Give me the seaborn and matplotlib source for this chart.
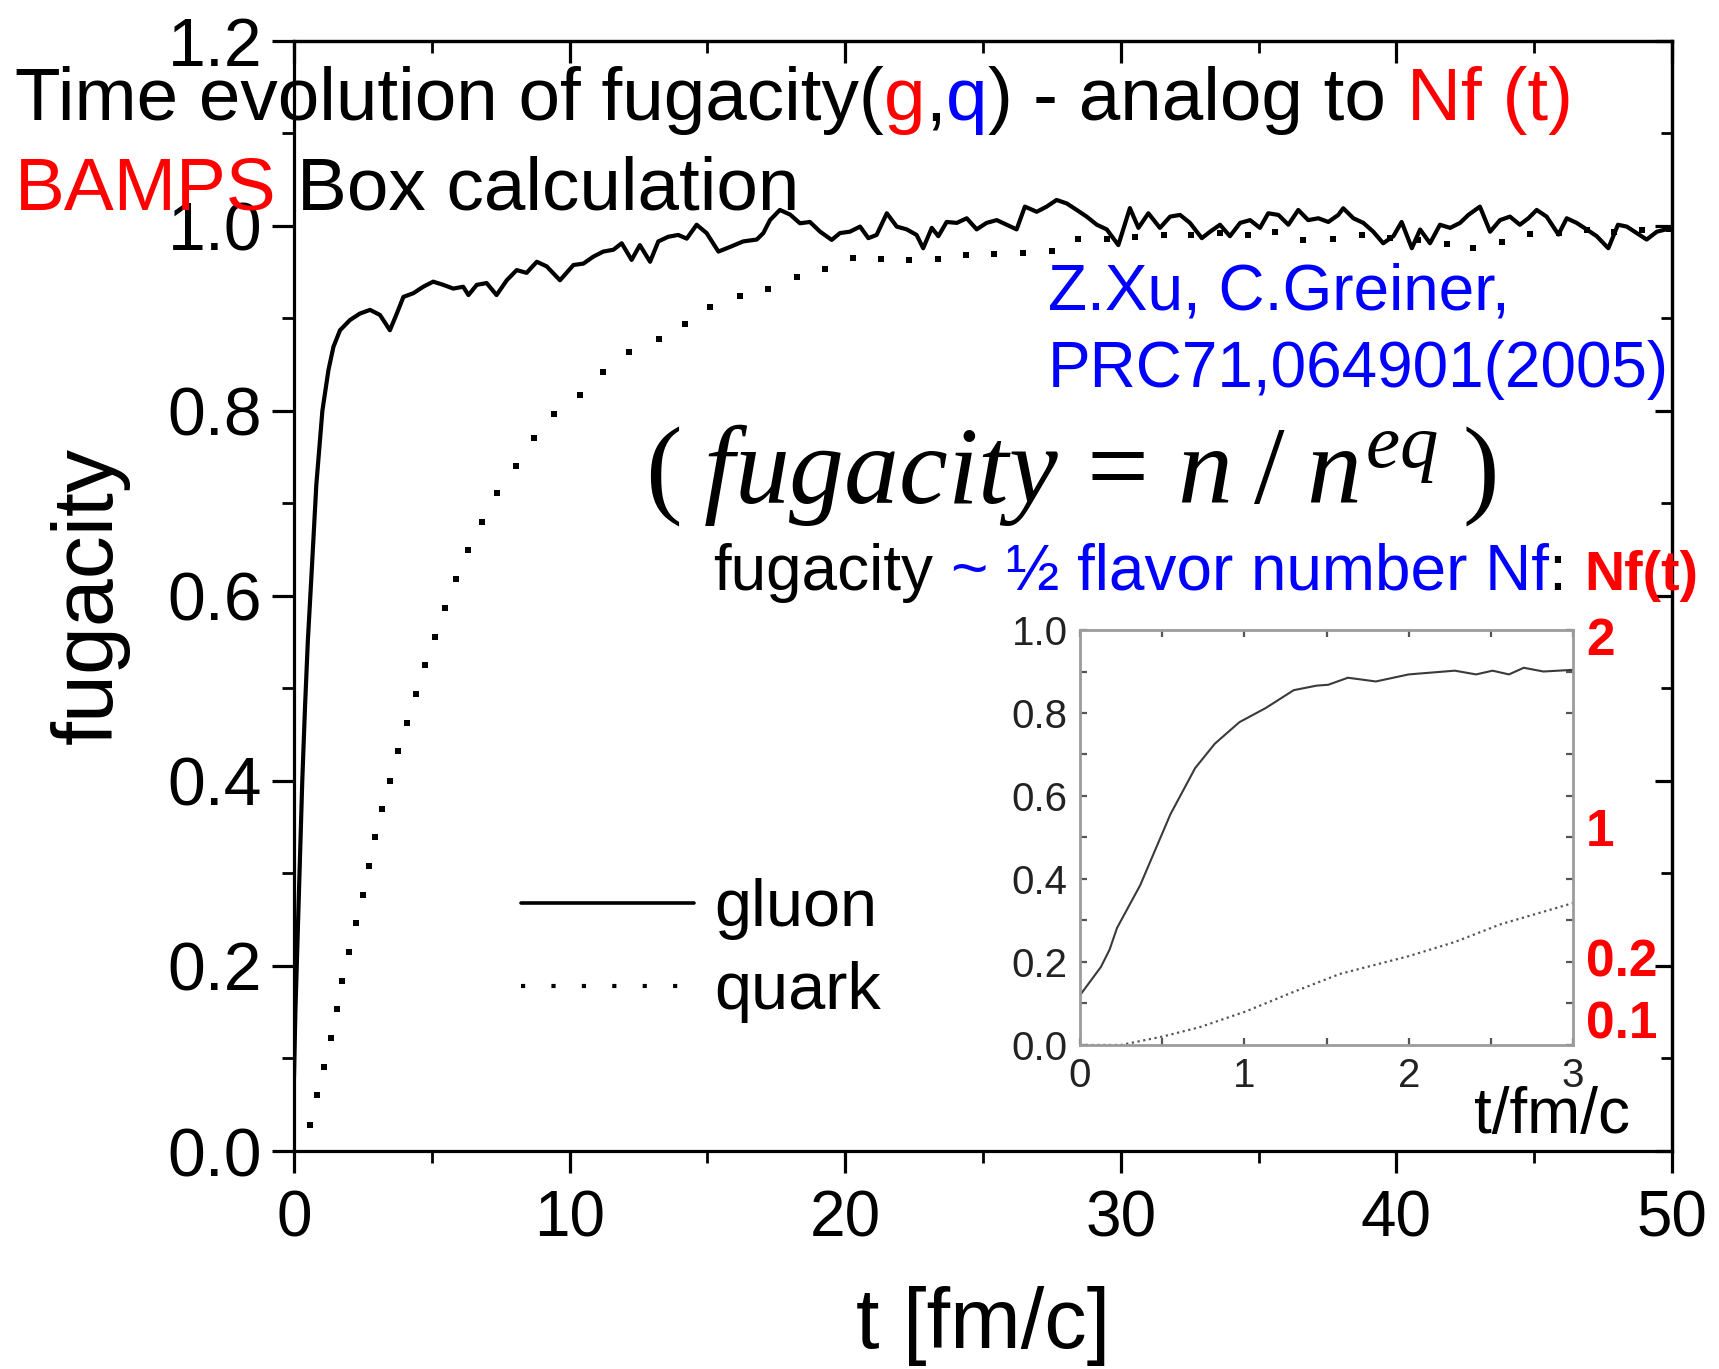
import matplotlib
matplotlib.use("Agg")
import matplotlib.pyplot as plt
import seaborn as sns
import pandas as pd
from matplotlib.lines import Line2D
from matplotlib.ticker import MultipleLocator, FixedLocator, FormatStrFormatter, NullFormatter
from matplotlib.transforms import IdentityTransform

# ---------------- data ----------------
gluon_t = [0.0, 0.05, 0.1, 0.2, 0.3, 0.4, 0.5, 0.63, 0.81, 1.03, 1.25, 1.43, 1.67, 2.03, 2.39,
           2.76, 3.12, 3.48, 3.73, 3.97, 4.33, 4.69, 5.05, 5.42, 5.78, 6.14, 6.33, 6.63, 6.99,
           7.35, 7.72, 8.08, 8.44, 8.81, 9.17, 9.65, 10.14, 10.50, 10.86, 11.22, 11.59, 11.89,
           12.25, 12.55, 12.92, 13.22, 13.58, 13.94, 14.25, 14.61, 14.97, 15.40, 15.82, 16.30,
           16.79, 17.03, 17.27, 17.63, 18.0, 18.36, 18.72, 19.09, 19.51, 19.81, 20.17, 20.54,
           20.84, 21.14, 21.51, 21.87, 22.23, 22.59, 22.83, 23.14, 23.38, 23.68, 24.05, 24.41,
           24.77, 25.13, 25.50, 25.86, 26.22, 26.52, 26.95, 27.31, 27.67, 28.04, 28.40, 28.76,
           29.13, 29.49, 29.91, 30.33, 30.64, 31.00, 31.42, 31.79, 32.15, 32.51, 32.94, 33.24,
           33.60, 33.96, 34.33, 34.69, 35.05, 35.35, 35.72, 36.08, 36.44, 36.80, 37.17, 37.53,
           37.89, 38.07, 38.44, 38.80, 39.16, 39.52, 39.89, 40.19, 40.56, 40.86, 41.22, 41.58,
           41.95, 42.31, 42.61, 43.03, 43.40, 43.76, 44.12, 44.48, 44.79, 45.09, 45.45, 45.88,
           46.18, 46.54, 46.91, 47.27, 47.69, 48.04, 48.36, 48.72, 49.08, 49.45, 50.0]
gluon_f = [0.08, 0.15, 0.20, 0.30, 0.40, 0.48, 0.55, 0.62, 0.72, 0.80, 0.844, 0.869, 0.887, 0.898,
           0.905, 0.909, 0.9035, 0.887, 0.905, 0.923, 0.927, 0.934, 0.9395, 0.936, 0.932, 0.934,
           0.925, 0.936, 0.938, 0.925, 0.941, 0.952, 0.949, 0.961, 0.956, 0.941, 0.9575, 0.959,
           0.9665, 0.972, 0.974, 0.981, 0.963, 0.979, 0.961, 0.983, 0.988, 0.990, 0.986, 1.001,
           0.992, 0.972, 0.977, 0.983, 0.985, 0.992, 1.006, 1.017, 1.012, 1.0026, 1.004, 0.9935,
           0.9846, 0.992, 0.9935, 0.999, 0.9865, 0.990, 1.0134, 0.999, 0.996, 0.990, 0.9756,
           0.9976, 0.9886, 1.004, 1.003, 1.008, 0.996, 1.003, 1.006, 1.001, 0.996, 1.0206, 1.015,
           1.0206, 1.0278, 1.024, 1.017, 1.0098, 1.001, 0.996, 0.979, 1.019, 0.9976, 1.0134,
           0.9976, 1.0098, 1.0116, 1.003, 0.9865, 0.9935, 1.001, 0.9886, 1.003, 1.006, 0.9976,
           1.0134, 1.0116, 1.001, 1.017, 1.006, 1.008, 1.004, 1.0116, 1.0188, 1.008, 1.003,
           0.9935, 0.981, 0.9886, 1.004, 0.9756, 0.9958, 0.981, 1.001, 0.9976, 1.003, 1.0116,
           1.0206, 0.9935, 1.006, 1.0098, 1.001, 1.008, 1.017, 1.0098, 0.9904, 1.008, 1.003,
           0.9958, 0.9886, 0.9756, 1.001, 0.999, 0.992, 0.985, 0.9935, 0.9976]

quark_t = [0.59, 0.85, 1.10, 1.33, 1.55, 1.75, 2.01, 2.24, 2.52, 2.72, 2.93, 3.18, 3.49, 3.78,
           4.09, 4.44, 4.75, 5.11, 5.49, 5.89, 6.32, 6.82, 7.38, 8.04, 8.71, 9.42, 10.38, 11.21,
           12.15, 13.23, 14.17, 15.11, 16.17, 17.21, 18.24, 19.27, 20.27, 21.29, 22.33, 23.36,
           24.38, 25.41, 26.46, 27.49, 28.46, 29.49, 30.5, 31.55, 32.55, 33.6, 34.6, 35.6, 36.62,
           37.71, 38.74, 39.77, 40.8, 41.82, 42.79, 43.82, 44.85, 45.9, 46.9, 47.9, 48.9, 49.9]
quark_f = [0.0285, 0.060, 0.091, 0.122, 0.153, 0.184, 0.215, 0.246, 0.277, 0.308, 0.339, 0.370,
           0.400, 0.432, 0.463, 0.494, 0.525, 0.556, 0.587, 0.618, 0.649, 0.680, 0.711, 0.740,
           0.770, 0.797, 0.817, 0.842, 0.864, 0.877, 0.894, 0.912, 0.924, 0.932, 0.944, 0.953,
           0.965, 0.964, 0.963, 0.964, 0.968, 0.969, 0.970, 0.973, 0.986, 0.986, 0.988, 0.990,
           0.990, 0.992, 0.990, 0.993, 0.985, 0.986, 0.990, 0.987, 0.985, 0.980, 0.9756, 0.982,
           0.991, 0.992, 0.995, 0.993, 0.995, 0.996]

inset_gluon_t = [0.0, 0.127, 0.18, 0.225, 0.366, 0.55, 0.70, 0.82, 0.97, 1.13, 1.30, 1.44, 1.51,
                 1.63, 1.80, 2.0, 2.28, 2.41, 2.51, 2.61, 2.70, 2.82, 3.0]
inset_gluon_f = [0.12, 0.188, 0.23, 0.282, 0.385, 0.556, 0.667, 0.726, 0.778, 0.812, 0.855, 0.866,
                 0.868, 0.885, 0.876, 0.893, 0.902, 0.893, 0.902, 0.893, 0.909, 0.900, 0.904]
inset_quark_t = [0.0, 0.25, 0.51, 0.73, 1.01, 1.30, 1.58, 2.0, 2.28, 2.56, 3.0]
inset_quark_f = [0.0, 0.0, 0.021, 0.043, 0.081, 0.128, 0.171, 0.214, 0.248, 0.291, 0.342]

x_ticks = [0, 10, 20, 30, 40, 50]
y_ticks = [0.0, 0.2, 0.4, 0.6, 0.8, 1.0, 1.2]
inset_x_ticks = [0, 1, 2, 3]
inset_y_ticks = [0.0, 0.2, 0.4, 0.6, 0.8, 1.0]
nf_labels = ["2", "1", "0.2", "0.1"]
nf_levels = [0.973, 0.511, 0.198, 0.048]
legend_labels = ["gluon", "quark"]

main_df = pd.DataFrame({"t": gluon_t, "f": gluon_f})
quark_df = pd.DataFrame({"t": quark_t, "f": quark_f})

# ---------------- style ----------------
sns.set_style("ticks")
plt.rcParams["font.family"] = ["Liberation Sans", "DejaVu Sans"]
plt.rcParams["mathtext.fontset"] = "custom"
plt.rcParams["mathtext.rm"] = "Liberation Serif"
plt.rcParams["mathtext.it"] = "Liberation Serif:italic"
for key in ["text.color", "axes.labelcolor", "xtick.color", "ytick.color", "axes.edgecolor"]:
    plt.rcParams[key] = "black"

W, H = 1719, 1369
fig = plt.figure(figsize=(W / 100, H / 100), dpi=100, facecolor="white")
ax = fig.add_axes([0.17103, 0.15924, 0.80163, 0.8111])
ax.set_facecolor("white")

sns.lineplot(data=main_df, x="t", y="f", ax=ax, color="black", linewidth=3.0,
             estimator=None, sort=False, legend=False)
sns.scatterplot(data=quark_df, x="t", y="f", ax=ax, color="black", marker="s", s=13,
                linewidth=0, legend=False, zorder=3)

ax.set_xlim(0, 50)
ax.set_ylim(0, 1.2)
ax.xaxis.set_major_locator(FixedLocator(x_ticks))
ax.yaxis.set_major_locator(FixedLocator(y_ticks))
ax.xaxis.set_minor_locator(MultipleLocator(5))
ax.yaxis.set_minor_locator(MultipleLocator(0.1))
ax.yaxis.set_major_formatter(FormatStrFormatter("%.1f"))
for s in ax.spines.values():
    s.set_visible(True)
    s.set_linewidth(2.3)
    s.set_color("black")
ax.tick_params(which="major", direction="out", length=16, width=2.3, pad=7,
               colors="black", labelcolor="black")
ax.tick_params(which="minor", direction="out", length=8.5, width=2.0, colors="black")
ax.tick_params(axis="x", which="major", pad=12, labelsize=46)
ax.tick_params(axis="y", which="major", labelsize=49)

secx = ax.secondary_xaxis("top")
secx.xaxis.set_major_locator(FixedLocator(x_ticks))
secx.xaxis.set_minor_locator(MultipleLocator(5))
secx.xaxis.set_major_formatter(NullFormatter())
secx.tick_params(which="major", direction="in", length=16, width=2.3, colors="black")
secx.tick_params(which="minor", direction="in", length=8.5, width=2.0, colors="black")
secx.spines["top"].set_linewidth(2.3)

secy = ax.secondary_yaxis("right")
secy.yaxis.set_major_locator(FixedLocator(y_ticks))
secy.yaxis.set_minor_locator(MultipleLocator(0.1))
secy.yaxis.set_major_formatter(NullFormatter())
secy.tick_params(which="major", direction="in", length=12, width=2.3, colors="black")
secy.tick_params(which="minor", direction="in", length=8, width=2.0, colors="black")
secy.spines["right"].set_linewidth(2.3)

ax.set_xlabel("t [fm/c]", fontsize=61, color="black")
ax.set_ylabel("fugacity", fontsize=62, color="black")
ax.xaxis.set_label_coords(0.5, -0.122)
ax.yaxis.set_label_coords(-0.119, 0.5)

# legend
handles = [Line2D([0], [0], color="black", lw=2.6),
           Line2D([0], [0], color="black", lw=3.0, linestyle=(0, (1, 6.3)),
                  dash_capstyle="butt")]
leg = ax.legend(handles, legend_labels, loc="upper left", bbox_to_anchor=(0.1647, 0.246),
                frameon=False, fontsize=48, handlelength=2.6, handletextpad=0.3,
                labelspacing=0.32, borderpad=0, borderaxespad=0)
for t in leg.get_texts():
    t.set_color("black")

# ---------------- inset ----------------
axi = fig.add_axes([0.6283, 0.2367, 0.2868, 0.3031])
axi.set_facecolor("white")
sns.lineplot(x=inset_gluon_t, y=inset_gluon_f, ax=axi, color="#3a3a3a", linewidth=1.5,
             estimator=None, sort=False, legend=False)
sns.lineplot(x=inset_quark_t, y=inset_quark_f, ax=axi, color="#555555", linewidth=1.6,
             linestyle=(0, (1, 1.6)), estimator=None, sort=False, legend=False)
axi.set_xlim(0, 3)
axi.set_ylim(0, 1.0)
axi.xaxis.set_major_locator(FixedLocator(inset_x_ticks))
axi.yaxis.set_major_locator(FixedLocator(inset_y_ticks))
axi.xaxis.set_minor_locator(MultipleLocator(0.5))
axi.yaxis.set_minor_locator(MultipleLocator(0.1))
axi.yaxis.set_major_formatter(FormatStrFormatter("%.1f"))
for s in axi.spines.values():
    s.set_visible(True)
    s.set_color("#9c9c9c")
    s.set_linewidth(2.0)
axi.tick_params(which="both", direction="in", top=True, right=True, length=5, width=1.6,
                color="#555555", labelcolor="#222222", labelsize=29)
axi.tick_params(axis="y", pad=9)
axi.tick_params(axis="x", pad=9)
ytr = axi.get_yaxis_transform()
for lab, lev in zip(nf_labels, nf_levels):
    axi.text(1.026, lev, lab, transform=ytr, color="#ff0000", fontsize=37,
             fontweight="bold", ha="left", va="center")
axi.text(0.799, -0.171, "t/fm/c", transform=axi.transAxes, fontsize=46, color="black",
         ha="left", va="center")

# ---------------- annotations ----------------
renderer = fig.canvas.get_renderer()


def space_width(size, weight="normal"):
    a = fig.text(0, 0, "x x", fontsize=size, fontweight=weight, transform=IdentityTransform())
    b = fig.text(0, 0, "xx", fontsize=size, fontweight=weight, transform=IdentityTransform())
    w = a.get_window_extent(renderer).width - b.get_window_extent(renderer).width
    a.remove()
    b.remove()
    return w


def colored_line(x_px, base_px, pieces):
    x = x_px
    for txt, color, size, weight in pieces:
        if txt.strip() == "":
            x += space_width(size, weight) * len(txt)
            continue
        t = fig.text(x, H - base_px, txt, color=color, fontsize=size, fontweight=weight,
                     transform=IdentityTransform(), ha="left", va="baseline", zorder=5)
        x = t.get_window_extent(renderer).x1


K, R, B = "#000000", "#ff0000", "#0000ff"
TS = 53.8
colored_line(15, 120, [("Time evolution of fugacity(", K, TS, "normal"),
                       ("g", R, TS, "normal"), (",", K, TS, "normal"),
                       ("q", B, TS, "normal"), (")", K, TS, "normal"),
                       (" ", K, TS, "normal"), ("- analog to", K, TS, "normal"),
                       (" ", K, TS, "normal"), ("Nf (t)", R, TS, "normal")])
colored_line(15, 210, [("BAMPS", R, TS, "normal"), (" ", K, TS, "normal"),
                       ("Box calculation", K, TS, "normal")])
fig.text(1048 / W, 1 - 310 / H, "Z.Xu, C.Greiner,", color=B, fontsize=46, va="baseline")
fig.text(1048 / W, 1 - 387 / H, "PRC71,064901(2005)", color=B, fontsize=46, va="baseline")
fig.text(1071 / W, 1 - 502 / H, r"$(\;fugacity\,=\,n\;/\;n^{eq}\;)$", color=K, fontsize=79,
         ha="center", va="baseline")
colored_line(713, 590, [("fugacity", K, 46, "normal"), (" ", K, 46, "normal"),
                        ("~ ½ flavor number Nf", B, 46, "normal"), (":", K, 46, "normal"),
                        (" ", K, 46, "normal"), ("Nf(t)", R, 40, "bold")])

fig.savefig("out.png", dpi=100, facecolor="white")
